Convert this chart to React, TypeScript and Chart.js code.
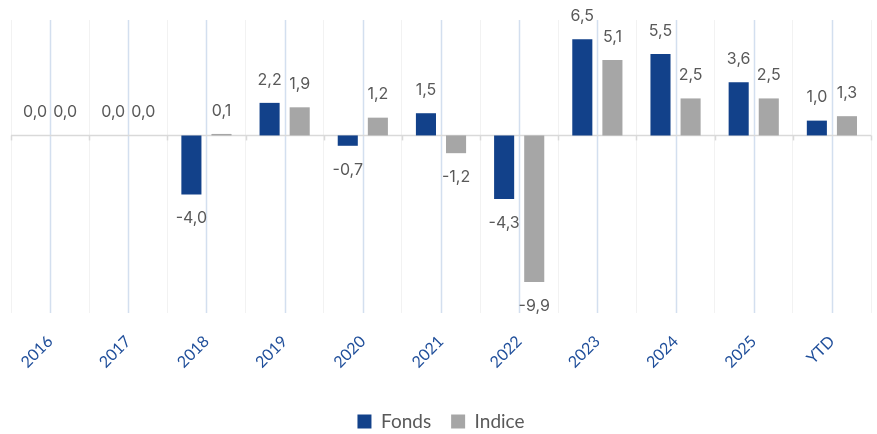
import React, { useEffect, useRef } from "react";
import { Chart, registerables } from "chart.js";

Chart.register(...registerables);

const categories = ["2016", "2017", "2018", "2019", "2020", "2021", "2022", "2023", "2024", "2025", "YTD"];
const fondsValues = [0.0, 0.0, -4.0, 2.2, -0.7, 1.5, -4.3, 6.5, 5.5, 3.6, 1.0];
const indiceValues = [0.0, 0.0, 0.1, 1.9, 1.2, -1.2, -9.9, 5.1, 2.5, 2.5, 1.3];
const seriesNames = ["Fonds", "Indice"];
const yMin = -12;
const yMax = 7.8;

const FONDS_COLOR = "#12418A";
const INDICE_COLOR = "#A6A6A6";

const fmt = (v: number) => v.toFixed(1).replace(".", ",");

const decorPlugin = {
  id: "decor",
  beforeDatasetsDraw(chart: any) {
    const { ctx, chartArea, scales } = chart;
    const x = scales.x;
    const y = scales.y;
    const zeroY = y.getPixelForValue(0);
    ctx.save();
    ctx.strokeStyle = "#D3DFEF";
    ctx.lineWidth = 1.5;
    for (let i = 0; i < categories.length; i++) {
      const px = Math.round(x.getPixelForValue(i)) + 0.5;
      ctx.beginPath();
      ctx.moveTo(px, chartArea.top);
      ctx.lineTo(px, chartArea.bottom);
      ctx.stroke();
    }
    ctx.strokeStyle = "#D9D9D9";
    ctx.lineWidth = 1.5;
    ctx.beginPath();
    ctx.moveTo(chartArea.left, zeroY);
    ctx.lineTo(chartArea.right, zeroY);
    ctx.stroke();
    const step = (chartArea.right - chartArea.left) / categories.length;
    for (let i = 0; i <= categories.length; i++) {
      const px = Math.round(chartArea.left + step * i) + 0.5;
      ctx.beginPath();
      ctx.moveTo(px, zeroY);
      ctx.lineTo(px, zeroY + 5);
      ctx.stroke();
    }
    ctx.restore();
  },
  afterDatasetsDraw(chart: any) {
    const { ctx } = chart;
    ctx.save();
    ctx.font = "16px Inter, 'Noto Sans', sans-serif";
    ctx.fillStyle = "#595959";
    ctx.textAlign = "center";
    ctx.textBaseline = "middle";
    chart.data.datasets.forEach((ds: any, di: number) => {
      const meta = chart.getDatasetMeta(di);
      meta.data.forEach((bar: any, i: number) => {
        const v = ds.data[i];
        const yy = v >= 0 ? bar.y - 23 : bar.y + 24;
        ctx.fillText(fmt(v), bar.x, yy);
      });
    });
    ctx.restore();
  },
};

export default function App() {
  const ref = useRef<HTMLCanvasElement>(null);
  useEffect(() => {
    document.body.style.margin = "0";
    const chart = new Chart(ref.current!, {
      type: "bar",
      data: {
        labels: categories,
        datasets: [
          {
            label: seriesNames[0],
            data: fondsValues,
            backgroundColor: FONDS_COLOR,
            categoryPercentage: 0.77,
            barPercentage: 0.667,
          },
          {
            label: seriesNames[1],
            data: indiceValues,
            backgroundColor: INDICE_COLOR,
            categoryPercentage: 0.77,
            barPercentage: 0.667,
          },
        ],
      },
      options: {
        animation: false,
        responsive: false,
        layout: { padding: { left: 11, right: 6, top: 20, bottom: -7 } },
        scales: {
          x: {
            grid: { display: true, color: "#F2F2F2", drawTicks: false, offset: true, lineWidth: 1 },
            border: { display: false },
            ticks: {
              color: "#1F4E9A",
              font: { family: "Lato, 'Liberation Sans', sans-serif", size: 16 },
              minRotation: 45,
              maxRotation: 45,
              padding: 19,
            },
            afterFit: (scale: any) => {
              scale.height = 79;
            },
          },
          y: { display: false, min: yMin, max: yMax },
        },
        plugins: {
          legend: {
            position: "bottom",
            labels: {
              boxWidth: 14,
              boxHeight: 14,
              color: "#595959",
              padding: 20,
              font: { family: "Lato, 'Liberation Sans', sans-serif", size: 19 },
            },
          },
          tooltip: { enabled: false },
        },
      },
      plugins: [decorPlugin],
    });
    return () => chart.destroy();
  }, []);
  return <canvas ref={ref} width={877} height={434} style={{ display: "block" }} />;
}
